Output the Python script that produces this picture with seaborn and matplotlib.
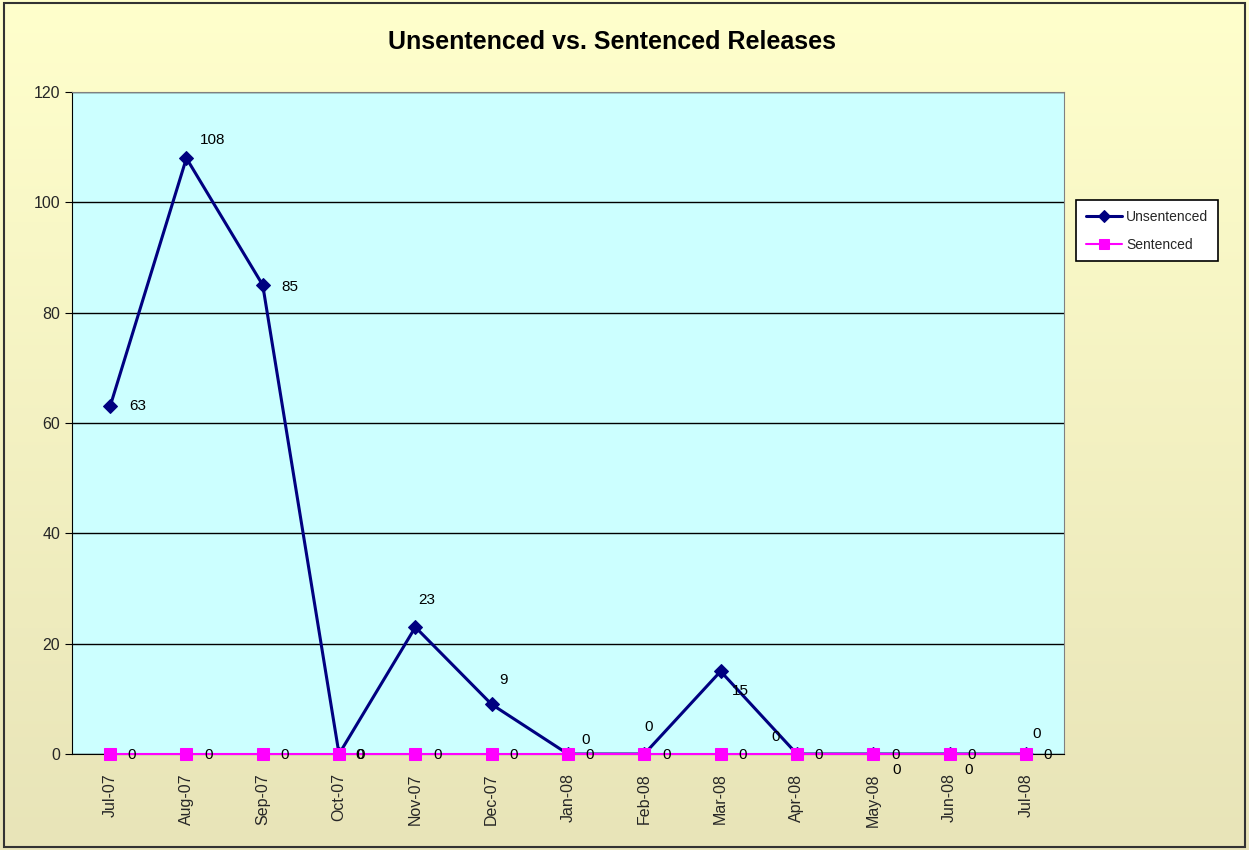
import numpy as np
import pandas as pd
import matplotlib
matplotlib.use("Agg")
import matplotlib.pyplot as plt
import seaborn as sns

# data
months = ["Jul-07", "Aug-07", "Sep-07", "Oct-07", "Nov-07", "Dec-07", "Jan-08",
          "Feb-08", "Mar-08", "Apr-08", "May-08", "Jun-08", "Jul-08"]
unsentenced = [63, 108, 85, 0, 23, 9, 0, 0, 15, 0, 0, 0, 0]
sentenced = [0, 0, 0, 0, 0, 0, 0, 0, 0, 0, 0, 0, 0]

# label offsets in pixels (Excel put these a bit all over the place)
uns_offsets = [(28, 0), (26, 18), (27, -2), (21, -1), (11, 27), (12, 24), (18, 14),
               (4, 27), (20, -20), (-21, 17), (23, -16), (19, -16), (11, 20)]
sen_offset = (22, -1)

sns.set_style("white")
plt.rcParams['font.family'] = ['Liberation Sans', 'DejaVu Sans']

df = pd.DataFrame({'x': np.arange(len(months)), 'Unsentenced': unsentenced,
                   'Sentenced': sentenced})

fig = plt.figure(figsize=(12.49, 8.5), dpi=100)

# gradient background
bg = fig.add_axes([0, 0, 1, 1], zorder=-10)
top = np.array([255, 255, 204]) / 255
bot = np.array([232, 228, 184]) / 255
t = np.linspace(0, 1, 256)[:, None]
grad = (top * (1 - t) + bot * t)[:, None, :]
bg.imshow(grad, aspect='auto', extent=[0, 1, 0, 1], origin='upper')
bg.set_xlim(0, 1)
bg.set_ylim(0, 1)
bg.axis('off')
bg.add_patch(plt.Rectangle((0.003, 0.003), 0.994, 0.994, fill=False,
                           edgecolor='#333333', lw=1.5, transform=bg.transAxes))

ax = fig.add_axes([0.0576, 0.1129, 0.7943, 0.7789])
ax.set_facecolor('#CCFFFF')

sns.lineplot(data=df, x='x', y='Unsentenced', ax=ax, color='#000080', lw=2.2,
             marker='D', markersize=7, markeredgecolor='#000080', label='Unsentenced',
             zorder=4)
sns.lineplot(data=df, x='x', y='Sentenced', ax=ax, color='#FF00FF', lw=1.5,
             marker='s', markersize=8, markeredgecolor='#FF00FF', label='Sentenced',
             zorder=5, clip_on=False)

for i, v in enumerate(unsentenced):
    ax.annotate(str(v), (i, v), xytext=uns_offsets[i], textcoords='offset pixels',
                ha='center', va='center', fontsize=11, color='black', zorder=6,
                annotation_clip=False)
for i, v in enumerate(sentenced):
    ax.annotate(str(v), (i, v), xytext=sen_offset, textcoords='offset pixels',
                ha='center', va='center', fontsize=11, color='black', zorder=6,
                annotation_clip=False)

ax.set_xlim(-0.5, len(months) - 0.5)
ax.set_ylim(0, 120)
ax.set_yticks(np.arange(0, 121, 20))
ax.set_xticks(np.arange(-0.5, len(months), 1))
ax.set_xticklabels([])
ax.set_xticks(np.arange(len(months)), minor=True)
ax.set_xticklabels(months, minor=True, rotation=90, fontsize=11.5)
ax.tick_params(axis='x', which='major', length=5, direction='out', color='black', width=1)
ax.tick_params(axis='x', which='minor', length=0, pad=14)
ax.tick_params(axis='y', length=5, direction='out', color='black', labelsize=11.5, left=True)
ax.grid(axis='y', color='black', lw=1)
ax.set_xlabel('')
ax.set_ylabel('')

for s in ['top', 'right']:
    ax.spines[s].set_color('#808080')
for s in ['left', 'bottom']:
    ax.spines[s].set_color('black')

leg = ax.legend(loc='upper left', bbox_to_anchor=(0.8615, 0.7647), bbox_transform=fig.transFigure,
                frameon=True, fancybox=False, edgecolor='black', fontsize=10,
                handlelength=2.6, handletextpad=0.3, borderpad=0.7, labelspacing=1.0,
                borderaxespad=0, facecolor='white', framealpha=1, markerscale=0.85)
leg.get_frame().set_linewidth(1.2)

fig.text(0.49, 0.951, 'Unsentenced vs. Sentenced Releases', ha='center', va='center',
         fontsize=18, fontweight='bold', color='black',
         family=['Liberation Sans Narrow', 'Liberation Sans', 'DejaVu Sans'])

fig.savefig('out.png', dpi=100)
